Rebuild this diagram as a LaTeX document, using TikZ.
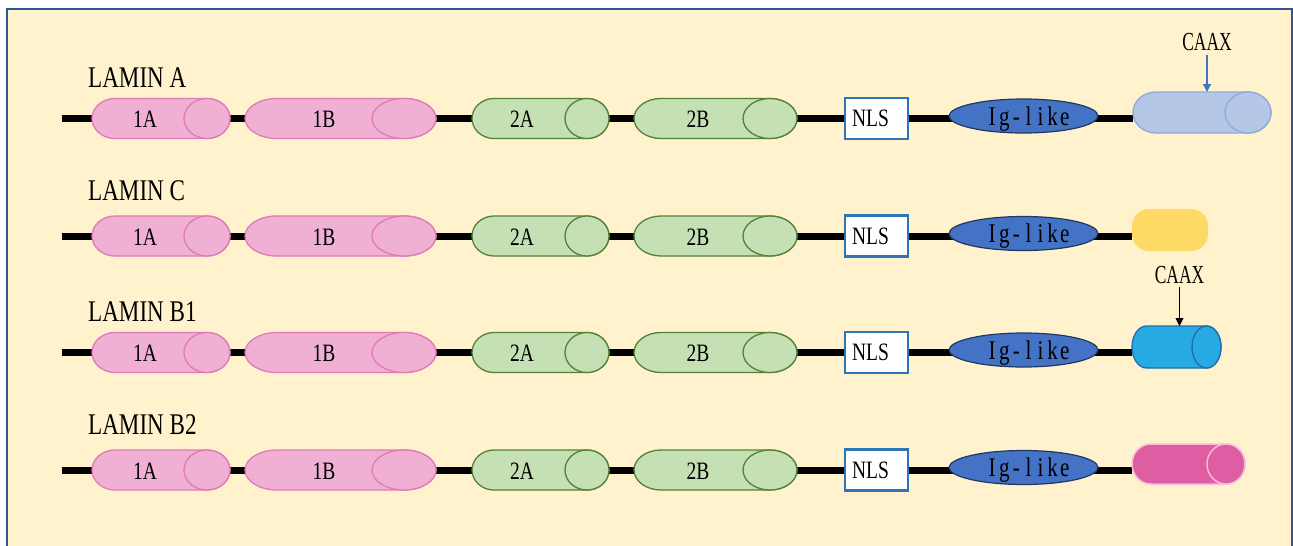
\documentclass[tikz,border=0pt]{standalone}
\usepackage{fontspec}
\setmainfont{Liberation Serif}
\newfontfamily\lf[FakeStretch=0.78]{Liberation Serif}
\newfontfamily\rf[FakeStretch=0.77]{Liberation Serif}
\newfontfamily\cf[FakeStretch=0.67]{Liberation Serif}
\usetikzlibrary{arrows.meta,shapes.geometric}
\definecolor{bg}{HTML}{FFF2CC}
\definecolor{frameC}{HTML}{2F5597}
\definecolor{pinkF}{HTML}{EFB0D3}
\definecolor{pinkD}{HTML}{E07AB8}
\definecolor{greenF}{HTML}{C5E0B4}
\definecolor{greenD}{HTML}{548235}
\definecolor{nlsD}{HTML}{2E75B6}
\definecolor{igF}{HTML}{4472C4}
\definecolor{igD}{HTML}{1F3864}
\definecolor{laF}{HTML}{B4C7E7}
\definecolor{laD}{HTML}{8FAADC}
\definecolor{lcF}{HTML}{FFD966}
\definecolor{lbaF}{HTML}{27AAE1}
\definecolor{lbaD}{HTML}{1F6DB0}
\definecolor{lbbF}{HTML}{DE5DA3}
\definecolor{lbbD}{HTML}{F7BCDB}
\newcommand\hw[1]{\makebox[12.1pt]{#1}}
% x1, x2, cy, rx, ry, style
\newcommand\pillpath[6]{%
  \path[#6] ({#1+#4},{#3-#5}) -- ({#2-#4},{#3-#5})
    arc[start angle=-90,end angle=90,x radius=#4,y radius=#5]
    -- ({#1+#4},{#3+#5})
    arc[start angle=90,end angle=270,x radius=#4,y radius=#5] -- cycle;
  \path[#6] ({#2-#4},#3) ellipse[x radius=#4,y radius=#5];}
\tikzset{
  bb/.style={line width=7pt, black},
  pinkpill/.style={fill=pinkF, draw=pinkD, line width=1.3pt},
  greenpill/.style={fill=greenF, draw=greenD, line width=1.3pt},
  dlbl/.style={font=\lf\fontsize{25}{25}\selectfont, inner sep=0pt, text depth=0pt},
  rowlbl/.style={font=\rf\fontsize{30}{30}\selectfont, inner sep=0pt, anchor=base west},
  nlsbox/.style={draw=nlsD, line width=2.5pt, fill=white, minimum width=63pt, minimum height=41pt, inner sep=0pt, text depth=0pt, font=\lf\fontsize{25}{25}\selectfont},
  igl/.style={ellipse, draw=igD, fill=igF, line width=1.2pt, minimum width=149pt, minimum height=34pt, inner sep=0pt, text depth=0pt, font=\lf\fontsize{27}{27}\selectfont},
  capnode/.style={inner sep=0pt, outer sep=0pt},
  caax/.style={font=\cf\fontsize{26}{26}\selectfont, inner sep=0pt, anchor=base},
}
\begin{document}
\begin{tikzpicture}[x=1pt,y=-1pt]
\useasboundingbox (0,0) rectangle (1293,546);
\fill[bg] (7,9) rectangle (1292,570);
\draw[frameC, line width=2pt] (7,570) -- (7,9) -- (1292,9) -- (1292,570);
% end-cap anchors
\node[capnode, minimum width=138pt, minimum height=41pt] (endA) at (1202,112.5) {};
\node[capnode, fill=lcF, rounded corners=17pt, minimum width=76pt, minimum height=42pt] (endC) at (1170,230) {};
\node[capnode, minimum width=89pt, minimum height=42pt] (endB1) at (1176.5,347) {};
\node[capnode, minimum width=113pt, minimum height=40pt] (endB2) at (1188.5,464) {};
\foreach \r/\cy/\lab/\lb in {A/118.5/LAMIN A/87, C/236/LAMIN C/200, B1/352.5/LAMIN B1/321, B2/470/LAMIN B2/434.5}{
  \coordinate (s\r) at (62,\cy);
  \draw[bb] (s\r) -- (s\r -| end\r.west);
  \node[rowlbl] (lab\r) at (88,\lb) {\lab};
  \pillpath{92}{230}{\cy}{23}{20}{pinkpill}
  \node[dlbl] (\r-1A) at (145,\cy+1) {1A};
  \pillpath{245}{436}{\cy}{32}{20}{pinkpill}
  \node[dlbl] (\r-1B) at (324,\cy+1) {1B};
  \pillpath{472}{609}{\cy}{22}{20}{greenpill}
  \node[dlbl] (\r-2A) at (522,\cy+1) {2A};
  \pillpath{634}{797}{\cy}{27}{20}{greenpill}
  \node[dlbl] (\r-2B) at (698,\cy+1) {2B};
  \node[nlsbox] (\r-NLS) at (876.5,\cy) {\hspace*{-12pt}NLS};
  \node[igl] (\r-Ig) at (1023.5,\cy-2.5) {\hspace*{10pt}\hw{I}\hw{g}\hw{-}\hw{l}\hw{i}\hw{k}\hw{e}};
}
% end caps
\pillpath{1133}{1271}{112.5}{23}{20.5}{fill=laF, draw=laD, line width=1.3pt}
\pillpath{1132}{1221}{347}{14.5}{21}{fill=lbaF, draw=lbaD, line width=1.3pt}
\pillpath{1132}{1245}{464}{19}{20}{fill=lbbF, draw=lbbD, line width=1.5pt}
% CAAX labels
\node[caax] (caaxA) at (1207,50) {CAAX};
\draw[line width=1.3pt, igF, -{Triangle[length=8pt,width=8pt]}, shorten <=5pt] (caaxA.south) -- (caaxA.south |- endA.north);
\node[caax] (caaxB1) at (1179.5,283) {CAAX};
\draw[line width=0.9pt, black, -{Triangle[length=8pt,width=8pt]}, shorten <=4pt] (caaxB1.south) -- (caaxB1.south |- endB1.north);
\end{tikzpicture}
\end{document}
